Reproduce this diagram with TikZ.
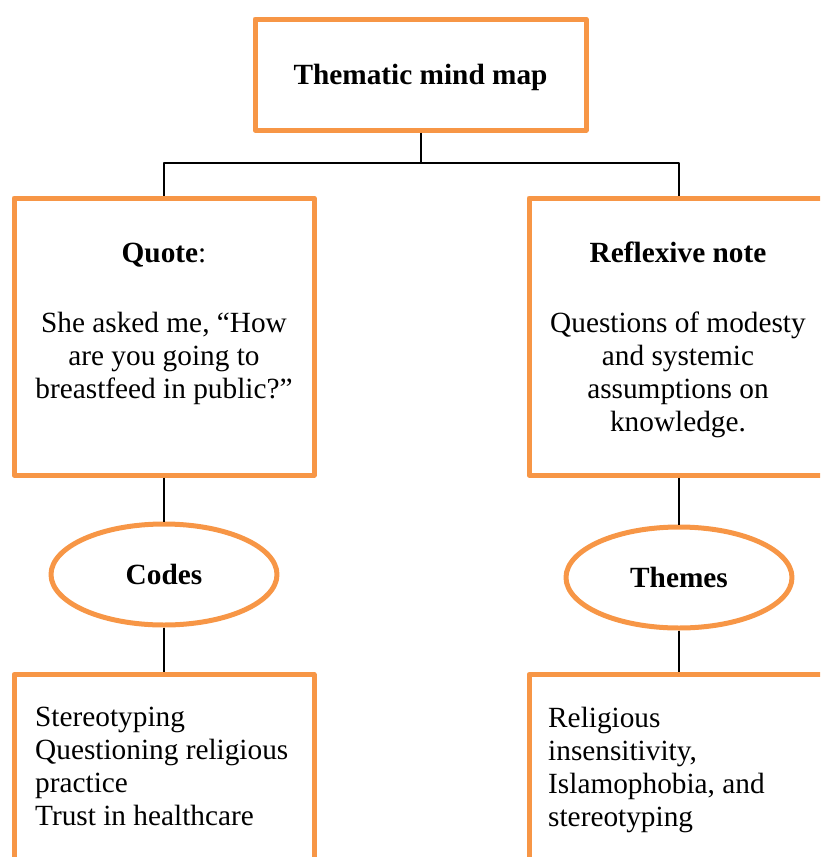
\documentclass[tikz,border=0pt]{standalone}
\usepackage{fontspec}
\setmainfont{Liberation Serif}
\usetikzlibrary{shapes.geometric}
\definecolor{mapOrange}{HTML}{F79646}
\newcommand{\mapsize}{\fontsize{29.3}{33}\selectfont}

\begin{document}
\begin{tikzpicture}[x=1pt,y=-1pt,line join=round,
    box/.style={draw=mapOrange,line width=5pt,minimum width=300pt,inner sep=0pt},
    oval/.style={ellipse,draw=mapOrange,line width=5pt,minimum width=226pt,
      minimum height=101pt,inner sep=0pt,text depth=0pt,font=\mapsize\bfseries},
    link/.style={line width=2pt},
    txt/.style={inner sep=0pt,font=\mapsize}]
      \useasboundingbox (0,0) rectangle (820,857);
      \clip (0,0) rectangle (820,857);
      \node[box,minimum width=331pt,minimum height=111pt,text depth=0pt,
        font=\mapsize\bfseries] (title) at (420.5,74.5) {Thematic mind map};
      \node[box,minimum height=277pt] (quote) at (164,336.5) {};
      \node[box,minimum height=277pt] (note) at (679,336.5) {};
      \node[oval] (codes) at (164,574.5) {Codes};
      \node[oval] (themes) at (679,577.5) {Themes};
      \node[box,minimum height=240pt,anchor=north] (codelist) at (164,672) {};
      \node[box,minimum height=240pt,anchor=north] (themelist) at (679,672) {};
      \node[txt,align=center,anchor=north] (quotetext) at (164,242.5)
        {\textbf{Quote}:\\[37pt]She asked me, “How\\are you going to\\breastfeed in public?”};
      \node[txt,align=center,anchor=north] (notetext) at (678,241.5)
        {\textbf{Reflexive note}\\[37pt]Questions of modesty\\and systemic\\assumptions on\\knowledge.};
      \node[txt,align=left,anchor=north west] (codetext) at (35,707)
        {Stereotyping\\Questioning religious\\practice\\Trust in healthcare};
      \node[txt,align=left,anchor=north west] (themetext) at (548,707)
        {Religious\\insensitivity,\\Islamophobia, and\\stereotyping};
      \coordinate (fork) at (420.5,163);
      \draw[link] (title.south) -- (fork);
      \draw[link] (quote.north) |- (fork) -| (note.north);
      \draw[link] (quote.south) -- (codes.north);
      \draw[link] (codes.south) -- (codelist.north);
      \draw[link] (note.south) -- (themes.north);
      \draw[link] (themes.south) -- (themelist.north);
    \end{tikzpicture}
\end{document}
